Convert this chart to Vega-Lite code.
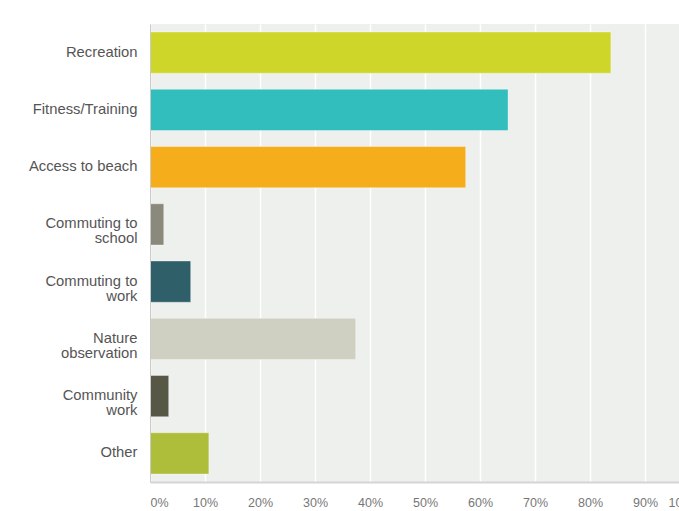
{
  "$schema": "https://vega.github.io/schema/vega-lite/v6.json",
  "autosize": {"type": "none"},
  "width": 550,
  "height": 458,
  "padding": {"left": 150, "top": 24, "right": 0, "bottom": 29},
  "background": "#ffffff",
  "config": {
    "view": {"fill": "#eef0ee", "stroke": null},
    "font": "Liberation Sans"
  },
  "data": {
    "values": [
      {"category": "Recreation", "pct": 83.8, "color": "#cfd62a"},
      {"category": "Fitness/Training", "pct": 65.1, "color": "#32bebd"},
      {"category": "Access to beach", "pct": 57.4, "color": "#f5ad1b"},
      {"category": "Commuting to school", "pct": 2.5, "color": "#8a897b"},
      {"category": "Commuting to work", "pct": 7.4, "color": "#2f5f69"},
      {"category": "Nature observation", "pct": 37.4, "color": "#cfcfc2"},
      {"category": "Community work", "pct": 3.4, "color": "#575745"},
      {"category": "Other", "pct": 10.7, "color": "#aebd3a"}
    ]
  },
  "mark": {"type": "bar", "stroke": "#ffffff", "strokeOpacity": 0.35, "strokeWidth": 1},
  "encoding": {
    "y": {
      "field": "category",
      "type": "nominal",
      "sort": null,
      "scale": {"paddingInner": 0.28, "paddingOuter": 0.14},
      "axis": {
        "title": null,
        "ticks": false,
        "domain": true,
        "domainColor": "#c8cbc8",
        "domainWidth": 1,
        "zindex": 1,
        "labelPadding": 13,
        "labelFontSize": 14.8,
        "labelColor": "#555555",
        "labelLimit": 200,
        "labelLineHeight": 15,
        "labelExpr": "datum.value == 'Commuting to school' ? ['Commuting to', 'school'] : datum.value == 'Commuting to work' ? ['Commuting to', 'work'] : datum.value == 'Nature observation' ? ['Nature', 'observation'] : datum.value == 'Community work' ? ['Community', 'work'] : datum.value",
        "encode": {
          "labels": {
            "enter": {
              "lineHeight": {"signal": "(datum.value == 'Nature observation' || datum.value == 'Community work') ? 12 : 19"}
            }
          }
        }
      }
    },
    "x": {
      "field": "pct",
      "type": "quantitative",
      "scale": {"domain": [0, 100], "nice": false},
      "axis": {
        "title": null,
        "values": [0, 10, 20, 30, 40, 50, 60, 70, 80, 90, 100],
        "labelExpr": "datum.value + '%'",
        "ticks": false,
        "grid": true,
        "gridColor": "#ffffff",
        "gridWidth": 1.5,
        "domain": true,
        "domainColor": "#d3d6d3",
        "domainWidth": 2,
        "labelPadding": 14,
        "labelFontSize": 12.5,
        "labelColor": "#777777",
        "labelFlush": true
      }
    },
    "color": {"field": "color", "type": "nominal", "scale": null, "legend": null}
  }
}
